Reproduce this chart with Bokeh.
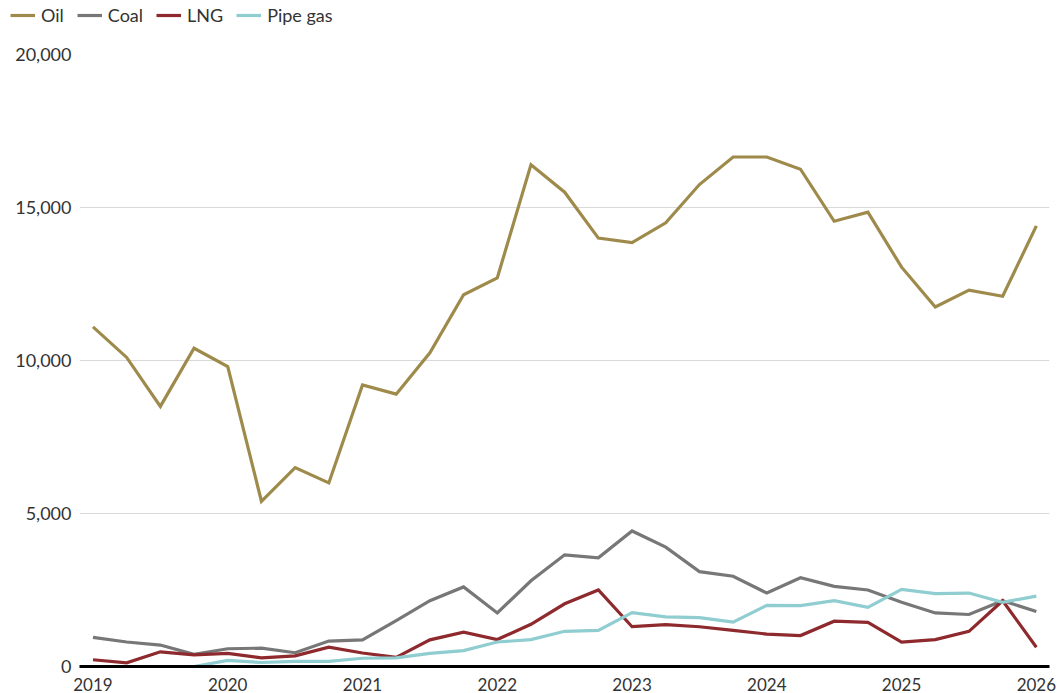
from bokeh.plotting import figure
from bokeh.models import ColumnDataSource, Legend, LegendItem, FixedTicker, Range1d, CustomJSTickFormatter
from bokeh.embed import file_html
from bokeh.resources import INLINE

# Quarterly observations, 2019 Q1 .. 2026 Q1 (index 0..28)
quarters = list(range(29))
year_ticks = [0, 4, 8, 12, 16, 20, 24, 28]
year_labels = ["2019", "2020", "2021", "2022", "2023", "2024", "2025", "2026"]

oil = [11100, 10100, 8500, 10400, 9800, 5400, 6500, 6000, 9200, 8900,
       10250, 12150, 12700, 16400, 15500, 14000, 13850, 14500, 15750, 16650,
       16650, 16250, 14550, 14850, 13050, 11750, 12300, 12100, 14400]
coal = [950, 800, 700, 400, 580, 600, 450, 830, 870, 1500,
        2150, 2600, 1750, 2800, 3650, 3550, 4430, 3900, 3100, 2950,
        2400, 2900, 2620, 2500, 2100, 1750, 1700, 2150, 1800]
lng = [220, 120, 480, 380, 430, 280, 350, 630, 440, 300,
       870, 1120, 880, 1380, 2050, 2500, 1300, 1370, 1300, 1180,
       1060, 1010, 1480, 1440, 800, 880, 1150, 2150, 630]
pipe_gas = [0, 0, 0, 0, 200, 130, 170, 170, 270, 280,
            430, 520, 800, 880, 1150, 1180, 1760, 1620, 1600, 1450,
            2000, 1990, 2150, 1930, 2520, 2380, 2400, 2100, 2300]

series = [("Oil", "oil", "#9e8b4c"), ("Coal", "coal", "#777777"),
          ("LNG", "lng", "#8e2a2d"), ("Pipe gas", "pipe", "#8fcdd0")]

FONT = "Lato"
TXT = "#333333"
LW = 3.2

src = ColumnDataSource(dict(x=quarters, oil=oil, coal=coal, lng=lng, pipe=pipe_gas))

# ---- main chart ----
p = figure(width=1060, height=663, output_backend="svg", toolbar_location=None,
           x_range=Range1d(-0.40, 28.39), y_range=Range1d(0, 20000),
           min_border_left=79, min_border_right=11, min_border_top=24, min_border_bottom=27)
p.outline_line_color = None
p.background_fill_color = "white"
p.border_fill_color = "white"

for name, key, col in series:
    p.line("x", key, source=src, line_color=col, line_width=LW, line_join="miter")

p.yaxis.ticker = FixedTicker(ticks=[0, 5000, 10000, 15000, 20000])
p.yaxis.formatter = CustomJSTickFormatter(code="return tick.toLocaleString('en-US');")
p.yaxis.axis_line_color = None
p.yaxis.major_tick_line_color = None
p.yaxis.minor_tick_line_color = None
p.yaxis.major_label_standoff = 2
p.yaxis.major_label_text_font = FONT
p.yaxis.major_label_text_font_size = "18px"
p.yaxis.major_label_text_color = TXT

p.xaxis.ticker = FixedTicker(ticks=year_ticks)
p.xaxis.major_label_overrides = {t: l for t, l in zip(year_ticks, year_labels)}
p.xaxis.axis_line_color = "black"
p.xaxis.axis_line_width = 3
p.xaxis.major_tick_line_color = None
p.xaxis.minor_tick_line_color = None
p.xaxis.major_label_standoff = 5
p.xaxis.major_label_text_font = FONT
p.xaxis.major_label_text_font_size = "17px"
p.xaxis.major_label_text_color = TXT

p.xgrid.grid_line_color = None
p.ygrid.grid_line_color = "#d9d9d9"
p.ygrid.grid_line_width = 1

# ---- legend strip (separate root so its frame starts at the page edge) ----
lg = figure(width=1060, height=30, output_backend="svg", toolbar_location=None,
            x_range=Range1d(0, 1), y_range=Range1d(-2, -1),
            x_axis_location=None, y_axis_location=None,
            min_border_left=0, min_border_right=0, min_border_top=0, min_border_bottom=0)
lg.outline_line_color = None
lg.xgrid.grid_line_color = None
lg.ygrid.grid_line_color = None
items = []
for name, key, col in series:
    r = lg.line("x", key, source=src, line_color=col, line_width=LW)
    items.append(LegendItem(label=name, renderers=[r]))
legend = Legend(items=items, orientation="horizontal", location=(10, 4),
                glyph_width=25, glyph_height=20, label_standoff=6, spacing=13,
                padding=0, margin=0, border_line_color=None,
                background_fill_alpha=0,
                label_text_font=FONT, label_text_font_size="18px",
                label_text_color=TXT)
lg.add_layout(legend, "center")

open("out.html", "w").write(file_html([lg, p], INLINE))
